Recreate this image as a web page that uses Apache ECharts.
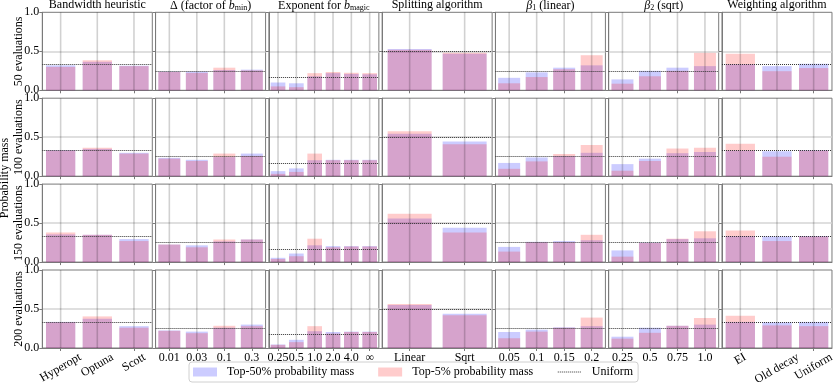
<!DOCTYPE html>
<html><head><meta charset="utf-8">
<script src="https://cdn.jsdelivr.net/npm/echarts@6/dist/echarts.min.js"></script>
<style>html,body{margin:0;padding:0;background:#fff}#c{width:837px;height:387px}</style>
</head><body><div id="c"></div>
<script>
// ---------- data ----------
const rowLabels = ['50 evaluations', '100 evaluations', '150 evaluations', '200 evaluations'];
const yLabelText = 'Probability mass';
const legendNames = ['Top-50% probability mass', 'Top-5% probability mass', 'Uniform'];

const bandwidthCats = ['Hyperopt', 'Optuna', 'Scott'];
const deltaCats = ['0.01', '0.03', '0.1', '0.3'];
const exponentCats = ['0.25', '0.5', '1.0', '2.0', '4.0', '∞'];
const splittingCats = ['Linear', 'Sqrt'];
const beta1Cats = ['0.05', '0.1', '0.15', '0.2'];
const beta2Cats = ['0.25', '0.5', '0.75', '1.0'];
const weightingCats = ['EI', 'Old decay', 'Uniform'];

// rows: 50, 100, 150, 200 evaluations
const bandwidthTop50 = [[0.32, 0.365, 0.315], [0.335, 0.35, 0.30], [0.355, 0.35, 0.295], [0.335, 0.375, 0.28]];
const bandwidthTop5  = [[0.30, 0.385, 0.31], [0.33, 0.365, 0.29], [0.38, 0.35, 0.27], [0.33, 0.405, 0.26]];

const deltaTop50 = [[0.24, 0.24, 0.26, 0.265], [0.235, 0.21, 0.245, 0.29], [0.225, 0.215, 0.265, 0.29], [0.225, 0.21, 0.26, 0.30]];
const deltaTop5  = [[0.235, 0.223, 0.29, 0.255], [0.225, 0.195, 0.29, 0.26], [0.225, 0.19, 0.29, 0.29], [0.22, 0.19, 0.285, 0.28]];

const exponentTop50 = [[0.10, 0.09, 0.18, 0.22, 0.21, 0.205], [0.065, 0.10, 0.205, 0.21, 0.21, 0.21], [0.055, 0.11, 0.215, 0.205, 0.205, 0.205], [0.045, 0.105, 0.215, 0.205, 0.21, 0.21]];
const exponentTop5  = [[0.05, 0.04, 0.22, 0.235, 0.225, 0.22], [0.03, 0.055, 0.29, 0.205, 0.205, 0.205], [0.04, 0.075, 0.30, 0.19, 0.20, 0.20], [0.04, 0.075, 0.28, 0.185, 0.205, 0.205]];

const splittingTop50 = [[0.53, 0.47], [0.545, 0.445], [0.56, 0.44], [0.55, 0.44]];
const splittingTop5  = [[0.52, 0.48], [0.575, 0.41], [0.62, 0.38], [0.565, 0.42]];

const beta1Top50 = [[0.16, 0.23, 0.29, 0.32], [0.17, 0.24, 0.26, 0.30], [0.195, 0.26, 0.27, 0.28], [0.205, 0.235, 0.265, 0.28]];
const beta1Top5  = [[0.09, 0.17, 0.27, 0.45], [0.095, 0.19, 0.285, 0.40], [0.135, 0.255, 0.255, 0.35], [0.125, 0.21, 0.26, 0.39]];

const beta2Top50 = [[0.14, 0.25, 0.29, 0.31], [0.155, 0.225, 0.295, 0.31], [0.15, 0.25, 0.295, 0.305], [0.145, 0.26, 0.285, 0.30]];
const beta2Top5  = [[0.085, 0.18, 0.25, 0.48], [0.07, 0.195, 0.355, 0.365], [0.07, 0.245, 0.30, 0.395], [0.12, 0.195, 0.285, 0.385]];

const weightingTop50 = [[0.335, 0.31, 0.34], [0.33, 0.32, 0.335], [0.335, 0.33, 0.335], [0.335, 0.33, 0.335]];
const weightingTop5  = [[0.47, 0.245, 0.285], [0.415, 0.25, 0.33], [0.405, 0.27, 0.33], [0.415, 0.29, 0.28]];

// ---------- layout / style ----------
const FONT = '"Liberation Serif", "DejaVu Serif", serif';
const panels = [
  { title: 'Bandwidth heuristic', cats: bandwidthCats, top50: bandwidthTop50, top5: bandwidthTop5, rotate: true },
  { title: 'Δ (factor of {i|b}{sub|min})', cats: deltaCats, top50: deltaTop50, top5: deltaTop5 },
  { title: 'Exponent for {i|b}{sub|magic}', cats: exponentCats, top50: exponentTop50, top5: exponentTop5 },
  { title: 'Splitting algorithm', cats: splittingCats, top50: splittingTop50, top5: splittingTop5 },
  { title: '{i|β}{sub|1} (linear)', cats: beta1Cats, top50: beta1Top50, top5: beta1Top5 },
  { title: '{i|β}{sub|2} (sqrt)', cats: beta2Cats, top50: beta2Top50, top5: beta2Top5 },
  { title: 'Weighting algorithm', cats: weightingCats, top50: weightingTop50, top5: weightingTop5, rotate: true }
];
const colLeft0 = 42.3, colStep = 113.28, colW = 110;
const rowTop0 = 12.3, rowStep = 85.9, rowH = 78;
const SPINE = '#7a7a7a', GRIDC = '#d4d4d4', GRIDW = 1.6, VGRIDC = 'rgba(0,0,0,0.18)';
const NROWS = rowLabels.length;
const ROWLABEL_X = 19;

const grid = [], xAxis = [], yAxis = [], series = [], title = [];
panels.forEach((p, c) => {
  const left = colLeft0 + c * colStep;
  title.push({
    text: p.title, left: left + colW / 2, top: -1, textAlign: 'center', padding: 0,
    textStyle: {
      fontFamily: FONT, fontSize: 12, fontWeight: 'normal', color: '#000',
      rich: {
        i: { fontFamily: FONT, fontSize: 12, fontStyle: 'italic', color: '#000' },
        sub: { fontFamily: FONT, fontSize: 8, color: '#000', padding: [5, 0, 0, 0] }
      }
    }
  });
  rowLabels.forEach((rl, r) => {
    const idx = grid.length;
    const bottomRow = r === NROWS - 1;
    grid.push({ left: left, top: rowTop0 + r * rowStep, width: colW, height: rowH,
      show: true, borderColor: SPINE, borderWidth: 1, backgroundColor: 'transparent' });
    xAxis.push({
      type: 'category', gridIndex: idx, boundaryGap: true, data: p.cats,
      axisLine: { show: true, lineStyle: { color: SPINE, width: 1 } },
      axisTick: { show: true, alignWithLabel: true, length: 3, lineStyle: { color: SPINE } },
      axisLabel: (bottomRow && !p.rotate) ?
        { show: true, margin: 4, interval: 0, fontFamily: FONT, fontSize: 12, color: '#000' } : { show: false },
      splitLine: { show: false }
    });
    yAxis.push({
      type: 'value', gridIndex: idx, min: 0, max: 1, interval: 0.5,
      axisLine: { show: true, lineStyle: { color: SPINE, width: 1 } },
      axisTick: { show: true, length: 3, lineStyle: { color: SPINE } },
      axisLabel: { show: c === 0, margin: 3, fontFamily: FONT, fontSize: 12, color: '#000',
        formatter: v => v.toFixed(1) },
      splitLine: { show: true, showMinLine: false, showMaxLine: false, lineStyle: { color: GRIDC, width: GRIDW } }
    });
    series.push({
      type: 'bar', name: legendNames[0], xAxisIndex: idx, yAxisIndex: idx, data: p.top50[r],
      barWidth: '80%', barGap: '-100%', silent: true, z: 2,
      itemStyle: { color: 'rgba(0,0,255,0.2)' }
    });
    series.push({
      type: 'bar', name: legendNames[1], xAxisIndex: idx, yAxisIndex: idx, data: p.top5[r],
      barWidth: '80%', barGap: '-100%', silent: true, z: 2,
      itemStyle: { color: 'rgba(255,0,0,0.2)' },
      markLine: {
        silent: true, symbol: 'none', animation: false, label: { show: false },
        lineStyle: { type: 'dotted', color: '#333', width: 1 },
        data: [{ yAxis: 1 / p.cats.length }]
      }
    });
  });
});
series.push({ type: 'line', name: legendNames[2], xAxisIndex: 0, yAxisIndex: 0, data: [],
  symbol: 'none', showSymbol: false, itemStyle: { color: '#333' },
  lineStyle: { type: 'dotted', color: '#333', width: 1 } });

const option = {
  animation: false,
  backgroundColor: '#fff',
  title: title,
  grid: grid, xAxis: xAxis, yAxis: yAxis, series: series,
  legend: {
    left: 189, top: 362, orient: 'horizontal', itemWidth: 24, itemHeight: 9, itemGap: 24,
    padding: [4, 5, 4, 4], borderColor: '#d0d0d0', borderWidth: 1, borderRadius: 3,
    selectedMode: false,
    textStyle: { fontFamily: FONT, fontSize: 12, color: '#000', padding: [0, 0, 0, 5] },
    data: [
      { name: legendNames[0], icon: 'rect' },
      { name: legendNames[1], icon: 'rect' },
      { name: legendNames[2], itemStyle: { opacity: 0 }, lineStyle: { type: 'dotted', color: '#333', width: 1 } }
    ]
  }
};
const chart = echarts.init(document.getElementById('c'), null, { renderer: 'canvas' });
chart.setOption(option);

// ---- extras positioned through the chart's own scales ----
const measureCtx = document.createElement('canvas').getContext('2d');
measureCtx.font = '12px ' + FONT;
const extras = [{
  type: 'text', x: 5, y: 178, rotation: Math.PI / 2, silent: true, z: 20,
  style: { text: yLabelText, font: '12px ' + FONT, fill: '#000', textAlign: 'center', textVerticalAlign: 'middle' }
}];
// row labels, centred on each row of panels
rowLabels.forEach((rl, r) => {
  extras.push({
    type: 'text', x: ROWLABEL_X, y: chart.convertToPixel({ yAxisIndex: r }, 0.5), rotation: Math.PI / 2,
    silent: true, z: 20,
    style: { text: rl, font: '12px ' + FONT, fill: '#000', textAlign: 'center', textVerticalAlign: 'middle' }
  });
});
panels.forEach((p, c) => {
  for (let r = 0; r < NROWS; r++) {
    const idx = c * NROWS + r;
    const yTop = chart.convertToPixel({ yAxisIndex: idx }, 1);
    const yBot = chart.convertToPixel({ yAxisIndex: idx }, 0);
    // vertical grid lines at the category centres (translucent, so bars show through like the original)
    p.cats.forEach((name, i) => {
      const x = chart.convertToPixel({ xAxisIndex: idx }, i);
      extras.push({ type: 'rect', z: 20, silent: true,
        shape: { x: x - 0.8, y: yTop, width: 1.6, height: yBot - yTop },
        style: { fill: VGRIDC } });
    });
    // rotated tick labels on the bottom row (rotated box centred under its tick)
    if (p.rotate && r === NROWS - 1) {
      p.cats.forEach((name, i) => {
        const x = chart.convertToPixel({ xAxisIndex: idx }, i);
        const w = measureCtx.measureText(name).width;
        const boxH = w * 0.5 + 10 * 0.866;
        extras.push({
          type: 'text', x: x, y: yBot + 4 + boxH / 2, rotation: Math.PI / 6, silent: true, z: 20,
          style: { text: name, font: '12px ' + FONT, fill: '#000', textAlign: 'center', textVerticalAlign: 'middle' }
        });
      });
    }
  }
});
chart.setOption({ graphic: { elements: extras } });
</script></body></html>
